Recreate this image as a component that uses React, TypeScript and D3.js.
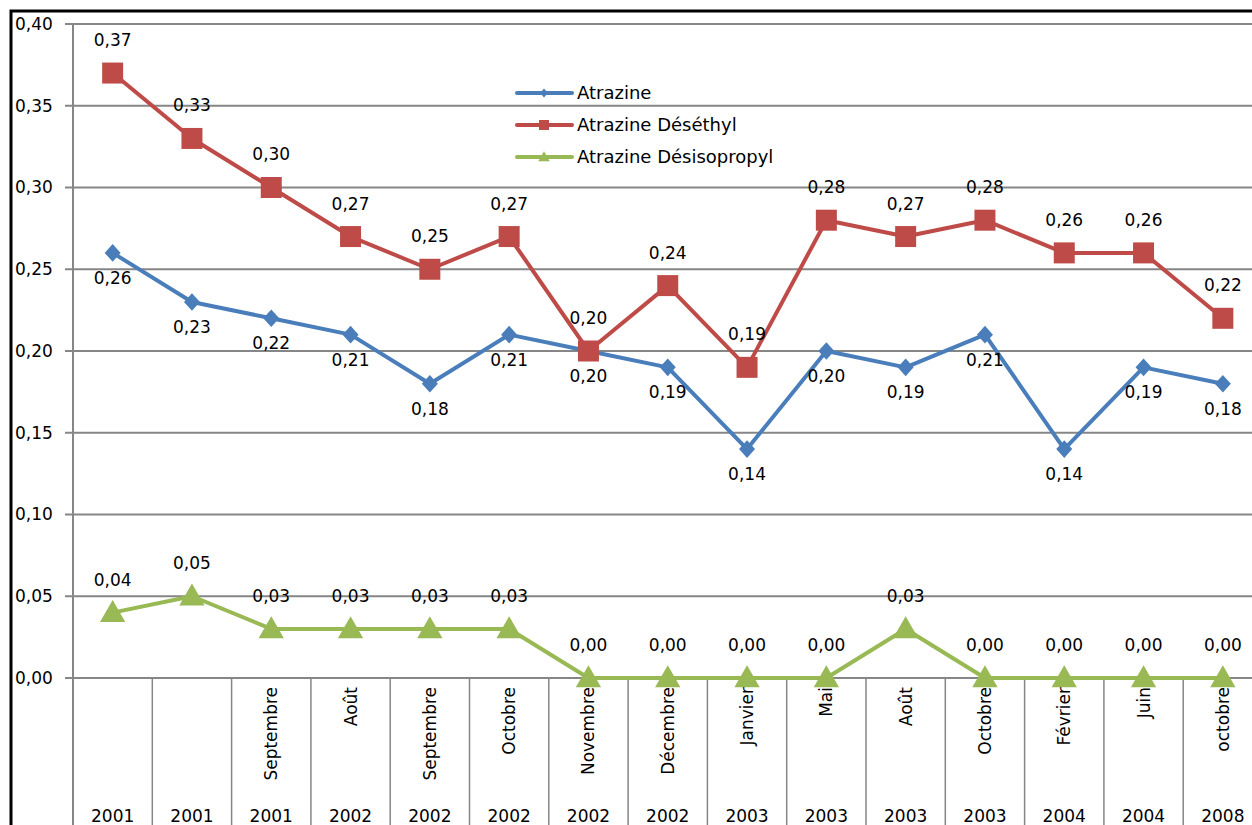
import React, { useEffect, useRef } from 'react';
import * as d3 from 'd3';

const months = ['', '', 'Septembre', 'Août', 'Septembre', 'Octobre', 'Novembre', 'Décembre', 'Janvier', 'Mai', 'Août', 'Octobre', 'Février', 'Juin', 'octobre'];
const years = ['2001', '2001', '2001', '2002', '2002', '2002', '2002', '2002', '2003', '2003', '2003', '2003', '2004', '2004', '2008'];
const atrazine = [0.26, 0.23, 0.22, 0.21, 0.18, 0.21, 0.2, 0.19, 0.14, 0.2, 0.19, 0.21, 0.14, 0.19, 0.18];
const desethyl = [0.37, 0.33, 0.3, 0.27, 0.25, 0.27, 0.2, 0.24, 0.19, 0.28, 0.27, 0.28, 0.26, 0.26, 0.22];
const desisopropyl = [0.04, 0.05, 0.03, 0.03, 0.03, 0.03, 0, 0, 0, 0, 0.03, 0, 0, 0, 0];
const yTicks = [0, 0.05, 0.1, 0.15, 0.2, 0.25, 0.3, 0.35, 0.4];

const FONT = 'DejaVu Sans';

const App = () => {
  const ref = useRef<SVGSVGElement | null>(null);

  useEffect(() => {
    drawChart();
  }, []);

  const drawChart = () => {
    const svg = d3.select(ref.current);
    svg.selectAll('*').remove();

    const left = 73, top = 24, bottom = 678, step = 79.3;
    const fmt = (v: number) => d3.format('.2f')(v).replace('.', ',');

    const x = d3.scaleBand<number>()
      .domain(d3.range(months.length))
      .range([left, left + step * months.length]);
    const cx = (i: number) => (x(i) as number) + x.bandwidth() / 2;
    const y = d3.scaleLinear().domain([0, 0.4]).range([bottom, top]);

    // outer frame
    svg.append('rect')
      .attr('x', 11).attr('y', 11)
      .attr('width', 1300).attr('height', 900)
      .attr('fill', 'none').attr('stroke', '#000').attr('stroke-width', 3);

    // gridlines + tick labels
    const grid = svg.append('g');
    grid.selectAll('line')
      .data(yTicks)
      .enter().append('line')
      .attr('x1', left - 8).attr('x2', 1252)
      .attr('y1', d => y(d)).attr('y2', d => y(d))
      .attr('stroke', '#868686').attr('stroke-width', 2);
    grid.selectAll('text')
      .data(yTicks)
      .enter().append('text')
      .attr('x', 15).attr('y', d => y(d))
      .attr('dy', '0.35em')
      .attr('font-family', FONT).attr('font-size', 17)
      .text(d => fmt(d));

    svg.append('line')
      .attr('x1', left).attr('x2', left)
      .attr('y1', top).attr('y2', 825)
      .attr('stroke', '#868686').attr('stroke-width', 2);

    // category separators
    svg.append('g').selectAll('line')
      .data(d3.range(1, months.length + 1))
      .enter().append('line')
      .attr('x1', d => left + d * x.step()).attr('x2', d => left + d * x.step())
      .attr('y1', bottom).attr('y2', 825)
      .attr('stroke', '#868686').attr('stroke-width', 1.5);

    // month labels (rotated)
    svg.append('g').selectAll('text')
      .data(months)
      .enter().append('text')
      .attr('transform', (d, i) => `translate(${cx(i)},${bottom + 9}) rotate(-90)`)
      .attr('text-anchor', 'end')
      .attr('dy', '0.35em')
      .attr('font-family', FONT).attr('font-size', 17)
      .text(d => d);

    // year labels
    svg.append('g').selectAll('text')
      .data(years)
      .enter().append('text')
      .attr('x', (d, i) => cx(i)).attr('y', 822)
      .attr('text-anchor', 'middle')
      .attr('font-family', FONT).attr('font-size', 17)
      .text(d => d);

    const series = [
      { name: 'Atrazine', values: atrazine, color: '#4A7EBB', marker: 'diamond', labelDy: 25 },
      { name: 'Atrazine Déséthyl', values: desethyl, color: '#BE4B48', marker: 'square', labelDy: -33 },
      { name: 'Atrazine Désisopropyl', values: desisopropyl, color: '#98B954', marker: 'triangle', labelDy: -33 },
    ];

    const markerPath = (type: string, s: number) => {
      if (type === 'diamond') return `M0,${-s * 1.1}L${s},0L0,${s * 1.1}L${-s},0Z`;
      if (type === 'square') return `M${-s},${-s}H${s}V${s}H${-s}Z`;
      return `M0,${-s * 1.15}L${s * 1.15},${s * 0.85}L${-s * 1.15},${s * 0.85}Z`;
    };
    const markerSize: Record<string, number> = { diamond: 8, square: 10.5, triangle: 11 };

    const line = d3.line<number>()
      .x((d, i) => cx(i))
      .y(d => y(d));

    series.forEach(s => {
      const g = svg.append('g');
      g.append('path')
        .datum(s.values)
        .attr('d', line)
        .attr('fill', 'none')
        .attr('stroke', s.color)
        .attr('stroke-width', 4)
        .attr('stroke-linejoin', 'round');
      g.selectAll('.pt')
        .data(s.values)
        .enter().append('path')
        .attr('class', 'pt')
        .attr('transform', (d, i) => `translate(${cx(i)},${y(d)})`)
        .attr('d', markerPath(s.marker, markerSize[s.marker]))
        .attr('fill', s.color);
    });

    // data labels
    series.forEach(s => {
      svg.append('g').selectAll('text')
        .data(s.values)
        .enter().append('text')
        .attr('x', (d, i) => cx(i))
        .attr('y', d => y(d) + s.labelDy)
        .attr('dy', '0.35em')
        .attr('text-anchor', 'middle')
        .attr('font-family', FONT).attr('font-size', 17)
        .text(d => fmt(d));
    });

    // legend
    const legend = svg.append('g');
    series.forEach((s, k) => {
      const ly = 93 + k * 32;
      legend.append('line')
        .attr('x1', 517).attr('x2', 572)
        .attr('y1', ly).attr('y2', ly)
        .attr('stroke', s.color).attr('stroke-width', 4)
        .attr('stroke-linecap', 'round');
      legend.append('path')
        .attr('transform', `translate(544,${ly})`)
        .attr('d', markerPath(s.marker, s.marker === 'diamond' ? 4 : 5))
        .attr('fill', s.color);
      legend.append('text')
        .attr('x', 577).attr('y', ly)
        .attr('dy', '0.35em')
        .attr('font-family', FONT).attr('font-size', 18)
        .text(s.name);
    });
  };

  return (
    <div style={{ position: 'absolute', left: 0, top: 0, background: '#fff' }}>
      <svg ref={ref} width={1252} height={825} style={{ display: 'block' }}></svg>
    </div>
  );
};

export default App;
